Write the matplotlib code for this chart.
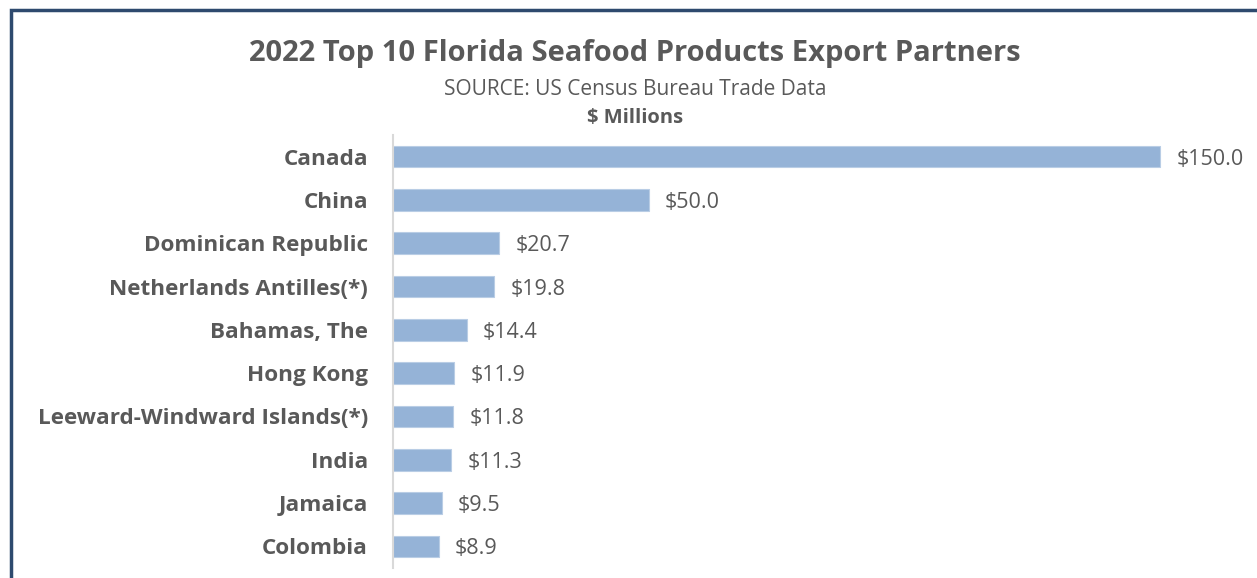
import matplotlib
matplotlib.use("Agg")
import matplotlib.pyplot as plt
from matplotlib.patches import Rectangle

countries = ["Canada", "China", "Dominican Republic", "Netherlands Antilles(*)",
             "Bahamas, The", "Hong Kong", "Leeward-Windward Islands(*)", "India",
             "Jamaica", "Colombia"]
values = [150.0, 50.0, 20.7, 19.8, 14.4, 11.9, 11.8, 11.3, 9.5, 8.9]

W, H = 1257, 578
fig = plt.figure(figsize=(W/100, H/100), dpi=100)
plt.rcParams['font.family'] = ['Open Sans', 'DejaVu Sans']
txt = '#595959'

ax = fig.add_axes([393/W, 1-568/H, (1200-393)/W, (568-135)/H])
y = list(range(len(countries)))
ax.barh(y, values, height=0.5, color='#95B3D7', edgecolor='#B9CDE5', linewidth=0.8)
ax.set_ylim(len(countries)-0.5, -0.5)
ax.set_xlim(0, 150*(1200-393)/(1160-393))
ax.set_yticks(y)
ax.set_yticklabels(countries, fontsize=16.2, fontweight='bold', color=txt)
ax.tick_params(axis='y', length=0, pad=18)
ax.set_xticks([])
for s in ['top', 'right', 'bottom']:
    ax.spines[s].set_visible(False)
ax.spines['left'].set_color('#D9D9D9')
ax.spines['left'].set_linewidth(1.5)
for yi, v in zip(y, values):
    ax.text(v + 3.2, yi, f"${v:.1f}", va='center_baseline', ha='left', fontsize=15.5, color=txt)

fig.text(635/W, 1-53/H, "2022 Top 10 Florida Seafood Products Export Partners",
         ha='center', va='center', fontsize=21, fontweight='bold', color=txt)
fig.text(635/W, 1-90/H, "SOURCE: US Census Bureau Trade Data",
         ha='center', va='center', fontsize=15, color=txt)
fig.text(635/W, 1-118/H, "$ Millions",
         ha='center', va='center', fontsize=14.5, fontweight='bold', color=txt)

fig.add_artist(Rectangle((11/W, -0.1), 2.0, 1.1 - 10/H, transform=fig.transFigure,
                         fill=False, edgecolor='#2E4A6E', linewidth=2.5))

fig.savefig("out.png", dpi=100)
